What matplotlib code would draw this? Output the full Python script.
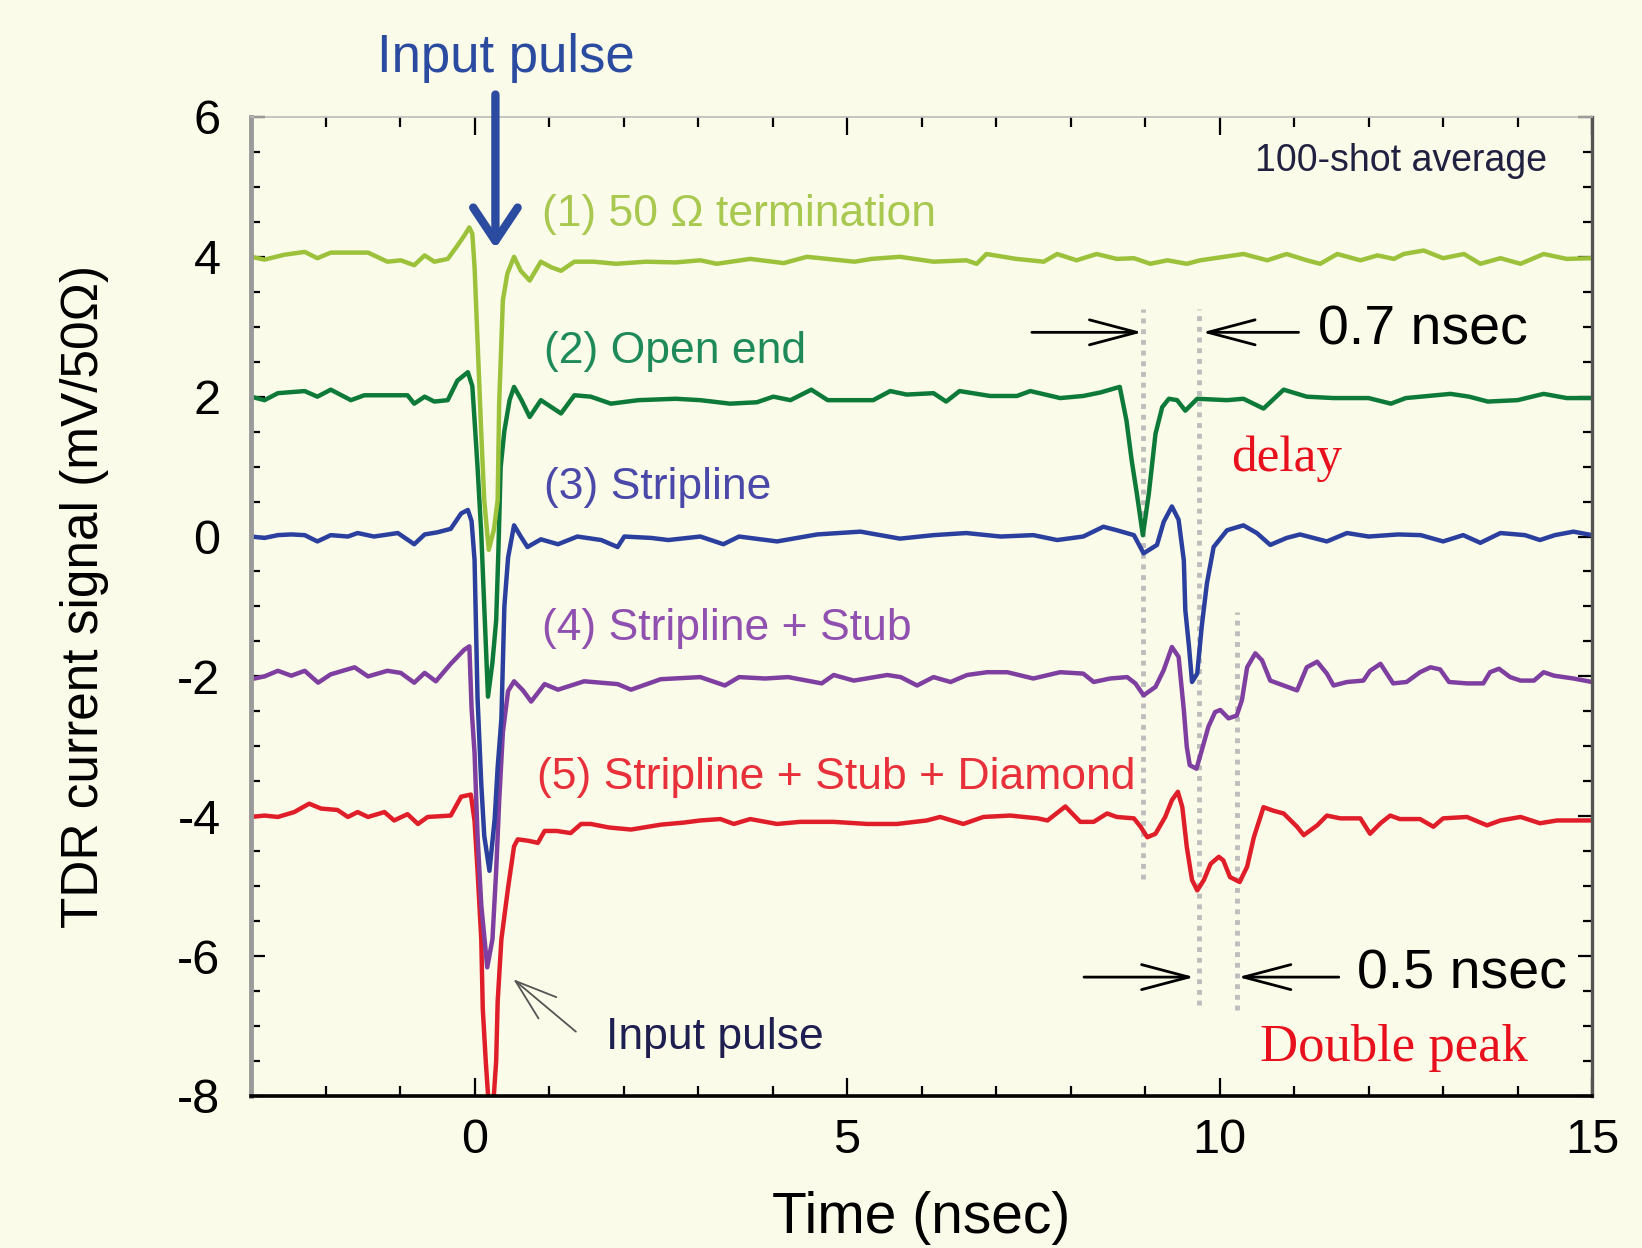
import matplotlib.pyplot as plt
from matplotlib.ticker import MultipleLocator

plt.rcParams['font.family'] = ['Liberation Sans', 'DejaVu Sans']
plt.rcParams['axes.unicode_minus'] = False

# (1) 50 ohm termination
term_t = [-3.00, -2.82, -2.55, -2.28, -2.11, -1.93, -1.43, -1.17, -0.99, -0.81,
          -0.67, -0.54, -0.36, -0.23, -0.14, -0.07, -0.03, 0.00, 0.04, 0.09,
          0.13, 0.19, 0.26, 0.31, 0.33, 0.38, 0.44, 0.53, 0.62, 0.74,
          0.89, 1.03, 1.16, 1.34, 1.60, 1.90, 2.30, 2.70, 3.03, 3.25,
          3.70, 4.15, 4.46, 5.10, 5.33, 5.71, 6.16, 6.60, 6.74, 6.87,
          7.27, 7.64, 7.82, 8.08, 8.35, 8.62, 8.85, 9.07, 9.30, 9.56,
          9.74, 10.32, 10.64, 10.90, 11.17, 11.35, 11.58, 11.89, 12.12, 12.34,
          12.47, 12.74, 13.00, 13.28, 13.50, 13.77, 14.04, 14.35, 14.66, 15.00]
term_v = [4.00, 3.96, 4.03, 4.07, 3.98, 4.06, 4.06, 3.93, 3.95, 3.88,
          4.02, 3.93, 3.97, 4.16, 4.30, 4.42, 4.33, 3.85, 2.80, 1.47,
          0.52, -0.19, 0.10, 0.52, 1.90, 3.38, 3.76, 4.00, 3.80, 3.66,
          3.93, 3.85, 3.80, 3.93, 3.93, 3.90, 3.93, 3.92, 3.95, 3.90,
          3.97, 3.91, 4.00, 3.93, 3.97, 4.00, 3.93, 3.95, 3.90, 4.04,
          3.97, 3.93, 4.04, 3.95, 4.04, 3.97, 3.98, 3.90, 3.95, 3.90,
          3.95, 4.04, 3.95, 4.04, 3.95, 3.90, 4.04, 3.95, 4.02, 3.97,
          4.04, 4.09, 3.98, 4.04, 3.90, 3.98, 3.90, 4.04, 3.97, 3.98]

# (2) open end
open_t = [-3.00, -2.82, -2.64, -2.28, -2.11, -1.93, -1.66, -1.48, -0.90, -0.81,
          -0.67, -0.54, -0.36, -0.23, -0.09, -0.03, 0.00, 0.04, 0.09, 0.13,
          0.18, 0.24, 0.29, 0.32, 0.35, 0.40, 0.47, 0.53, 0.63, 0.74,
          0.89, 1.16, 1.34, 1.56, 1.83, 2.20, 2.70, 3.03, 3.43, 3.79,
          4.01, 4.24, 4.52, 4.74, 5.35, 5.58, 5.80, 6.16, 6.33, 6.51,
          6.92, 7.28, 7.46, 7.86, 8.17, 8.40, 8.66, 8.75, 8.82, 8.89,
          8.97, 9.05, 9.14, 9.23, 9.32, 9.43, 9.54, 9.70, 10.10, 10.32,
          10.59, 10.86, 11.17, 11.53, 12.00, 12.30, 12.50, 13.10, 13.35, 13.60,
          14.00, 14.35, 14.66, 15.00]
open_v = [2.00, 1.95, 2.05, 2.08, 2.00, 2.10, 1.95, 2.02, 2.02, 1.90,
          2.00, 1.93, 1.95, 2.23, 2.35, 2.15, 1.66, 0.99, 0.04, -1.00,
          -2.29, -1.80, -1.20, -0.20, 0.99, 1.51, 1.95, 2.14, 1.95, 1.71,
          1.95, 1.76, 2.02, 2.00, 1.90, 1.95, 1.97, 1.95, 1.90, 1.92,
          2.00, 1.95, 2.10, 1.95, 1.95, 2.08, 2.03, 2.05, 1.93, 2.08,
          2.01, 2.01, 2.08, 1.98, 2.01, 2.06, 2.14, 1.66, 1.09, 0.61,
          0.02, 0.61, 1.47, 1.85, 1.97, 1.95, 1.80, 1.97, 1.95, 1.97,
          1.83, 2.10, 2.00, 1.98, 1.98, 1.90, 1.98, 2.04, 2.00, 1.93,
          1.95, 2.04, 1.98, 1.98]

# (3) stripline
strip_t = [-3.00, -2.82, -2.64, -2.46, -2.28, -2.11, -1.93, -1.70, -1.57, -1.35,
           -1.03, -0.81, -0.67, -0.50, -0.32, -0.18, -0.09, -0.04, 0.00, 0.02,
           0.04, 0.09, 0.13, 0.20, 0.27, 0.31, 0.36, 0.40, 0.45, 0.53,
           0.62, 0.71, 0.89, 1.12, 1.38, 1.70, 1.92, 2.01, 2.37, 2.60,
           3.03, 3.34, 3.55, 4.06, 4.60, 5.18, 5.71, 6.16, 6.60, 7.06,
           7.50, 7.82, 8.17, 8.44, 8.62, 8.85, 8.98, 9.16, 9.25, 9.36,
           9.45, 9.52, 9.54, 9.59, 9.63, 9.70, 9.76, 9.83, 9.92, 10.10,
           10.32, 10.50, 10.68, 10.90, 11.08, 11.44, 11.71, 12.00, 12.40, 12.70,
           13.00, 13.27, 13.50, 13.77, 14.10, 14.30, 14.50, 14.75, 15.00]
strip_v = [0.00, -0.02, 0.02, 0.03, 0.02, -0.07, 0.02, 0.00, 0.05, 0.00,
           0.05, -0.11, 0.03, 0.06, 0.11, 0.33, 0.38, 0.22, -0.34, -1.33,
           -2.31, -3.54, -4.28, -4.78, -4.04, -3.30, -2.61, -1.00, -0.30, 0.16,
           0.00, -0.15, -0.04, -0.11, 0.00, -0.05, -0.15, 0.00, -0.02, -0.05,
           0.00, -0.11, 0.00, -0.07, 0.03, 0.07, -0.03, 0.02, 0.05, 0.00,
           0.02, -0.05, 0.00, 0.14, 0.09, 0.02, -0.24, -0.12, 0.21, 0.43,
           0.24, -0.34, -1.05, -1.58, -2.08, -1.96, -1.29, -0.67, -0.15, 0.09,
           0.16, 0.05, -0.12, -0.02, 0.03, -0.07, 0.05, 0.00, 0.03, 0.02,
           -0.07, 0.02, -0.09, 0.05, 0.02, -0.05, 0.02, 0.07, 0.02]

# (4) stripline + stub
stub_t = [-3.00, -2.82, -2.64, -2.46, -2.28, -2.10, -1.93, -1.61, -1.43, -1.17,
          -0.99, -0.81, -0.67, -0.52, -0.32, -0.14, -0.07, -0.04, 0.00, 0.04,
          0.09, 0.17, 0.24, 0.29, 0.33, 0.38, 0.45, 0.53, 0.65, 0.76,
          0.94, 1.12, 1.47, 1.92, 2.10, 2.50, 3.03, 3.36, 3.55, 3.90,
          4.21, 4.66, 4.82, 5.09, 5.54, 5.72, 5.94, 6.16, 6.39, 6.61,
          6.88, 7.15, 7.50, 7.86, 8.17, 8.31, 8.53, 8.76, 8.87, 8.98,
          9.14, 9.25, 9.36, 9.45, 9.52, 9.56, 9.60, 9.69, 9.76, 9.85,
          9.94, 10.01, 10.12, 10.23, 10.30, 10.37, 10.48, 10.57, 10.68, 10.86,
          11.04, 11.17, 11.31, 11.44, 11.53, 11.71, 11.93, 12.02, 12.16, 12.33,
          12.51, 12.69, 12.83, 12.96, 13.08, 13.32, 13.54, 13.63, 13.75, 13.90,
          14.04, 14.22, 14.35, 14.49, 14.75, 15.00]
stub_v = [-2.04, -2.00, -1.92, -1.99, -1.92, -2.09, -1.97, -1.87, -2.00, -1.92,
          -1.95, -2.09, -1.95, -2.07, -1.82, -1.62, -1.57, -2.46, -3.10, -4.28,
          -5.27, -6.16, -5.76, -4.78, -3.79, -2.80, -2.21, -2.07, -2.20, -2.36,
          -2.11, -2.19, -2.07, -2.11, -2.19, -2.04, -2.01, -2.13, -2.01, -2.03,
          -2.01, -2.10, -1.98, -2.06, -1.98, -2.01, -2.13, -2.01, -2.08, -1.98,
          -1.94, -1.94, -2.03, -1.94, -1.96, -2.08, -2.03, -2.01, -2.10, -2.27,
          -2.15, -1.91, -1.58, -1.72, -2.48, -3.01, -3.27, -3.32, -3.06, -2.72,
          -2.51, -2.48, -2.60, -2.56, -2.34, -1.87, -1.67, -1.77, -2.06, -2.13,
          -2.20, -1.87, -1.79, -1.96, -2.13, -2.08, -2.06, -1.92, -1.82, -2.10,
          -2.08, -1.94, -1.87, -1.90, -2.08, -2.10, -2.10, -1.94, -1.89, -2.01,
          -2.06, -2.06, -1.94, -1.99, -2.03, -2.08]

# (5) stripline + stub + diamond
diam_t = [-3.00, -2.82, -2.64, -2.42, -2.22, -2.06, -1.84, -1.70, -1.57, -1.43,
          -1.21, -1.08, -0.90, -0.76, -0.63, -0.32, -0.18, -0.05, 0.00, 0.04,
          0.09, 0.11, 0.15, 0.22, 0.29, 0.31, 0.36, 0.45, 0.53, 0.58,
          0.72, 0.85, 0.94, 1.10, 1.29, 1.43, 1.56, 1.80, 2.10, 2.50,
          2.81, 3.03, 3.30, 3.48, 3.70, 4.06, 4.37, 4.82, 5.27, 5.67,
          6.07, 6.25, 6.56, 6.83, 7.19, 7.56, 7.69, 7.93, 8.13, 8.31,
          8.49, 8.62, 8.85, 8.94, 9.03, 9.14, 9.27, 9.36, 9.44, 9.50,
          9.56, 9.63, 9.70, 9.79, 9.88, 9.99, 10.05, 10.14, 10.27, 10.37,
          10.46, 10.59, 10.72, 10.86, 11.04, 11.13, 11.31, 11.44, 11.62, 11.89,
          12.02, 12.16, 12.29, 12.42, 12.69, 12.87, 13.00, 13.32, 13.59, 13.77,
          14.04, 14.30, 14.53, 15.00]
diam_v = [-4.01, -3.99, -4.01, -3.94, -3.82, -3.89, -3.91, -4.01, -3.94, -4.01,
          -3.94, -4.06, -3.97, -4.11, -4.01, -3.99, -3.72, -3.69, -4.07, -4.78,
          -5.76, -6.75, -7.50, -8.60, -7.50, -6.65, -5.76, -5.02, -4.43, -4.33,
          -4.35, -4.38, -4.21, -4.21, -4.24, -4.11, -4.11, -4.16, -4.19, -4.12,
          -4.09, -4.06, -4.04, -4.11, -4.04, -4.11, -4.08, -4.08, -4.11, -4.11,
          -4.06, -4.01, -4.11, -4.01, -3.99, -4.03, -4.06, -3.86, -4.08, -4.08,
          -3.96, -4.01, -4.03, -4.15, -4.30, -4.25, -4.01, -3.77, -3.65, -3.87,
          -4.44, -4.91, -5.06, -4.91, -4.68, -4.58, -4.63, -4.87, -4.94, -4.72,
          -4.30, -3.87, -3.92, -3.96, -4.15, -4.27, -4.13, -3.99, -4.03, -4.03,
          -4.25, -4.10, -3.99, -4.04, -4.04, -4.15, -4.03, -4.01, -4.13, -4.06,
          -4.01, -4.10, -4.06, -4.06]

# dotted guide lines at the reflection features
guide_t = [8.97, 9.72, 10.24]
guide_top = [3.26, 3.26, -1.08]
guide_bottom = [-4.90, -6.70, -6.77]

bg = '#FAFBE8'
fig = plt.figure(figsize=(16.42, 12.48), dpi=100, facecolor=bg)
ax = fig.add_axes([0.1529, 0.1218, 0.8167, 0.7845])
ax.set_facecolor(bg)

ax.vlines(guide_t, guide_bottom, guide_top, colors='#BDBDBD', linestyles=(0, (1, 1.2)), lw=3.5, zorder=1)

ax.plot(diam_t, diam_v, color='#E01E2A', lw=3.2, solid_joinstyle='round')
ax.plot(stub_t, stub_v, color='#7E3FA0', lw=3.2, solid_joinstyle='round')
ax.plot(strip_t, strip_v, color='#2B3F9E', lw=3.2, solid_joinstyle='round')
ax.plot(open_t, open_v, color='#0E7A3A', lw=3.2, solid_joinstyle='round')
ax.plot(term_t, term_v, color='#9CC23C', lw=3.2, solid_joinstyle='round')

ax.set_xlim(-3, 15)
ax.set_ylim(-8, 6)
ax.xaxis.set_major_locator(MultipleLocator(5))
ax.xaxis.set_minor_locator(MultipleLocator(1))
ax.yaxis.set_major_locator(MultipleLocator(2))
ax.yaxis.set_minor_locator(MultipleLocator(0.5))
ax.tick_params(axis='x', which='major', direction='in', length=13, width=1.6, top=True, labelsize=35, pad=16)
ax.tick_params(axis='x', which='minor', direction='in', length=7, width=1.6, top=True)
ax.tick_params(axis='y', which='major', direction='in', length=10, width=1.6, right=True, labelsize=35, pad=22)
ax.tick_params(axis='y', which='minor', direction='in', length=6.5, width=1.6, right=True)

ax.spines['left'].set_color('#9A9A9A')
ax.spines['left'].set_linewidth(3.5)
ax.spines['bottom'].set_color('black')
ax.spines['bottom'].set_linewidth(2.6)
ax.spines['right'].set_color('#555555')
ax.spines['right'].set_linewidth(2.4)
ax.spines['top'].set_color('#BBBBBB')
ax.spines['top'].set_linewidth(1.2)

ax.set_xlabel('Time (nsec)', fontsize=41, va='center')
ax.xaxis.set_label_coords(0.5, -0.125)
ax.set_ylabel('TDR current signal (mV/50Ω)', fontsize=37, va='center')
ax.yaxis.set_label_coords(-0.1245, 0.51)

# series labels
ax.text(0.90, 4.60, '(1) 50 Ω termination', fontsize=32, color='#A8C850', va='center')
ax.text(0.93, 2.65, '(2) Open end', fontsize=32, color='#1E8A5A', va='center')
ax.text(0.93, 0.70, '(3) Stripline', fontsize=32, color='#4A48A8', va='center')
ax.text(0.90, -1.32, '(4) Stripline + Stub', fontsize=32, color='#9050B0', va='center')
ax.text(0.84, -3.44, '(5) Stripline + Stub + Diamond', fontsize=32, color='#E8303A', va='center')

ax.text(12.44, 5.37, '100-shot average', fontsize=27, color='#202040', ha='center', va='center')

arrow_kw = dict(arrowstyle='->,head_length=1.7,head_width=0.45', lw=2, color='black',
                mutation_scale=20, shrinkA=0, shrinkB=0)

# delay annotation
ax.annotate('', xy=(8.96, 2.92), xytext=(7.48, 2.92), arrowprops=arrow_kw)
ax.annotate('', xy=(9.77, 2.92), xytext=(11.06, 2.92), arrowprops=arrow_kw)
ax.text(11.32, 2.95, '0.7 nsec', fontsize=40, color='black', va='center')
ax.text(10.15, 1.11, 'delay', fontsize=37, color='#E8101C', va='center', family='Liberation Serif')

# double peak annotation
ax.annotate('', xy=(9.66, -6.30), xytext=(8.18, -6.30), arrowprops=arrow_kw)
ax.annotate('', xy=(10.25, -6.30), xytext=(11.60, -6.30), arrowprops=arrow_kw)
ax.text(11.84, -6.26, '0.5 nsec', fontsize=40, color='black', va='center')
ax.text(10.54, -7.31, 'Double peak', fontsize=38, color='#E8101C', va='center', family='Liberation Serif')

# input pulse annotations
ax.annotate('', xy=(0.52, -6.33), xytext=(1.36, -7.08),
            arrowprops=dict(arrowstyle='->,head_length=1.5,head_width=0.5', lw=1.3, color='#555555',
                            mutation_scale=20, shrinkA=0, shrinkB=0))
ax.text(1.76, -7.16, 'Input pulse', fontsize=32, color='#1E1E50', va='center')

ax.annotate('', xy=(0.28, 4.12), xytext=(0.28, 6.32), annotation_clip=False,
            arrowprops=dict(arrowstyle='->,head_length=0.6,head_width=0.4', lw=6, color='#2A4BA0',
                            mutation_scale=40, shrinkA=0, shrinkB=0))
ax.text(0.42, 6.84, 'Input pulse', fontsize=38, color='#2A4BA0', ha='center', va='center', clip_on=False)

fig.savefig('out.png', dpi=100, facecolor=bg)
